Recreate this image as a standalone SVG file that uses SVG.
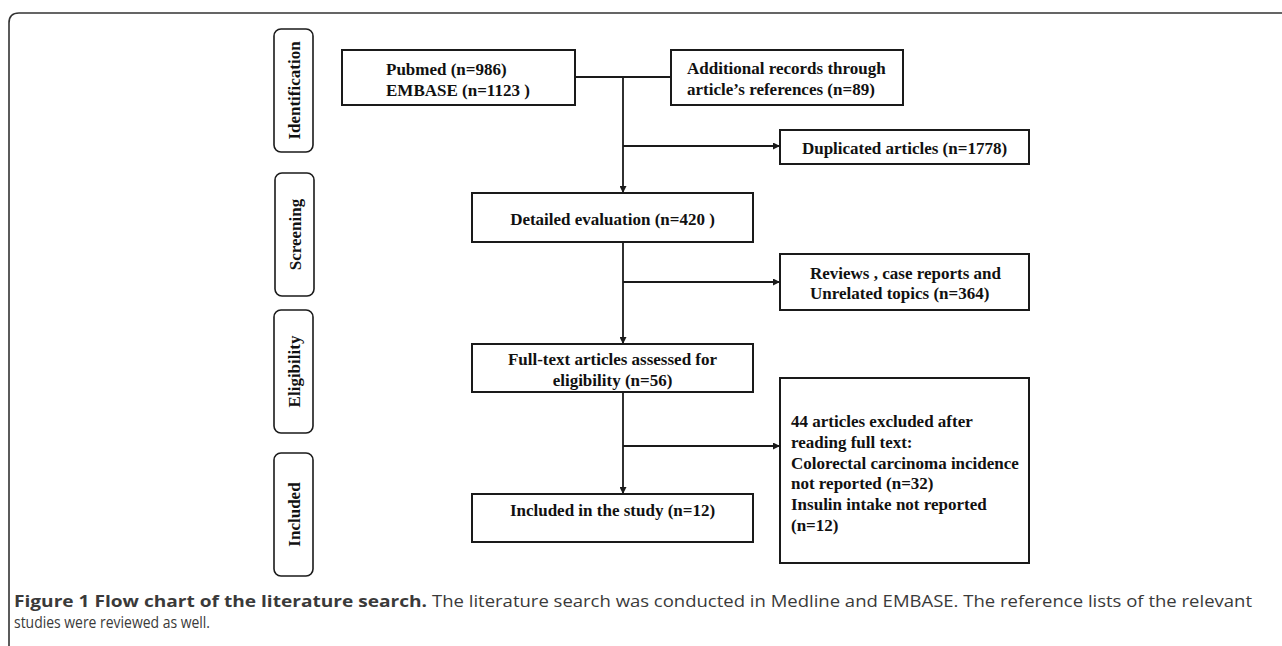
<svg xmlns="http://www.w3.org/2000/svg" width="1282" height="646" viewBox="0 0 1282 646">
<style>
.box{fill:#fff;stroke:#1a1a1a;stroke-width:2}
.phase{fill:#fff;stroke:#1a1a1a;stroke-width:1.6}
.t{font-family:"Liberation Serif","Times New Roman",serif;font-weight:bold;font-size:17px;fill:#111}
.c{text-anchor:middle}
.ln{fill:none;stroke:#1a1a1a;stroke-width:1.8}
.cap{font-family:"Open Sans","DejaVu Sans",sans-serif;font-size:16px;fill:#3a3a3a}
</style>
<defs>
<marker id="ah" viewBox="0 0 10 10" refX="10" refY="5" markerWidth="7" markerHeight="7" markerUnits="userSpaceOnUse" orient="auto">
<path d="M0,0 L10,5 L0,10 z" fill="#1a1a1a"/>
</marker>
</defs>
<rect width="1282" height="646" fill="#fff"/>
<path d="M9,646 V23 Q9,13 19,13 H1282" fill="none" stroke="#333" stroke-width="1.6"/>

<g id="phase-identification">
<rect class="phase" x="274" y="29" width="39" height="123" rx="7"/>
<text class="t c" transform="translate(294,90.5) rotate(-90)" dy="6">Identification</text>
</g>
<g id="phase-screening">
<rect class="phase" x="275" y="173" width="39" height="123" rx="7"/>
<text class="t c" transform="translate(294.5,234.5) rotate(-90)" dy="6">Screening</text>
</g>
<g id="phase-eligibility">
<rect class="phase" x="274" y="310" width="39" height="123" rx="7"/>
<text class="t c" transform="translate(294,371.5) rotate(-90)" dy="6">Eligibility</text>
</g>
<g id="phase-included">
<rect class="phase" x="274" y="453" width="39" height="123" rx="7"/>
<text class="t c" transform="translate(294,514.5) rotate(-90)" dy="6">Included</text>
</g>

<g id="connectors">
<line class="ln" x1="575" y1="77" x2="671" y2="77"/>
<line class="ln" x1="623" y1="77" x2="623" y2="193" marker-end="url(#ah)"/>
<line class="ln" x1="623" y1="146" x2="780" y2="146" marker-end="url(#ah)"/>
<line class="ln" x1="623" y1="242" x2="623" y2="344" marker-end="url(#ah)"/>
<line class="ln" x1="623" y1="282" x2="780" y2="282" marker-end="url(#ah)"/>
<line class="ln" x1="623" y1="392" x2="623" y2="494" marker-end="url(#ah)"/>
<line class="ln" x1="623" y1="446" x2="780" y2="446" marker-end="url(#ah)"/>
</g>

<g id="node-pubmed">
<rect class="box" x="342" y="50" width="233" height="55"/>
<text class="t" x="386" y="75">Pubmed (n=986)</text>
<text class="t" x="386" y="96">EMBASE (n=1123 )</text>
</g>
<g id="node-additional">
<rect class="box" x="671" y="50" width="232" height="55"/>
<text class="t" x="687" y="74">Additional records through</text>
<text class="t" x="687" y="95">article’s references (n=89)</text>
</g>
<g id="node-duplicated">
<rect class="box" x="780" y="130" width="249" height="34"/>
<text class="t c" x="904.5" y="154">Duplicated articles (n=1778)</text>
</g>
<g id="node-detailed">
<rect class="box" x="472" y="193" width="281" height="49"/>
<text class="t c" x="612.5" y="225">Detailed evaluation (n=420 )</text>
</g>
<g id="node-reviews">
<rect class="box" x="780" y="254" width="249" height="56"/>
<text class="t" x="810" y="279">Reviews , case reports and</text>
<text class="t" x="810" y="299">Unrelated topics (n=364)</text>
</g>
<g id="node-fulltext">
<rect class="box" x="472" y="344" width="281" height="48"/>
<text class="t c" x="612.5" y="365">Full-text articles assessed for</text>
<text class="t c" x="612.5" y="386">eligibility (n=56)</text>
</g>
<g id="node-excluded">
<rect class="box" x="780" y="378" width="249" height="185"/>
<text class="t" x="791" y="427">44 articles excluded after</text>
<text class="t" x="791" y="448">reading full text:</text>
<text class="t" x="791" y="469">Colorectal carcinoma incidence</text>
<text class="t" x="791" y="489">not reported (n=32)</text>
<text class="t" x="791" y="510">Insulin intake not reported</text>
<text class="t" x="791" y="531">(n=12)</text>
</g>
<g id="node-included">
<rect class="box" x="472" y="494" width="281" height="48"/>
<text class="t c" x="612.5" y="516">Included in the study (n=12)</text>
</g>

<g id="caption">
<text class="cap" x="14" y="607" font-weight="bold" fill="#1f1f1f" textLength="413" lengthAdjust="spacingAndGlyphs">Figure 1 Flow chart of the literature search.</text>
<text class="cap" x="432" y="607" textLength="820" lengthAdjust="spacingAndGlyphs">The literature search was conducted in Medline and EMBASE. The reference lists of the relevant</text>
<text class="cap" x="14" y="628" textLength="196" lengthAdjust="spacingAndGlyphs">studies were reviewed as well.</text>
</g>
</svg>
